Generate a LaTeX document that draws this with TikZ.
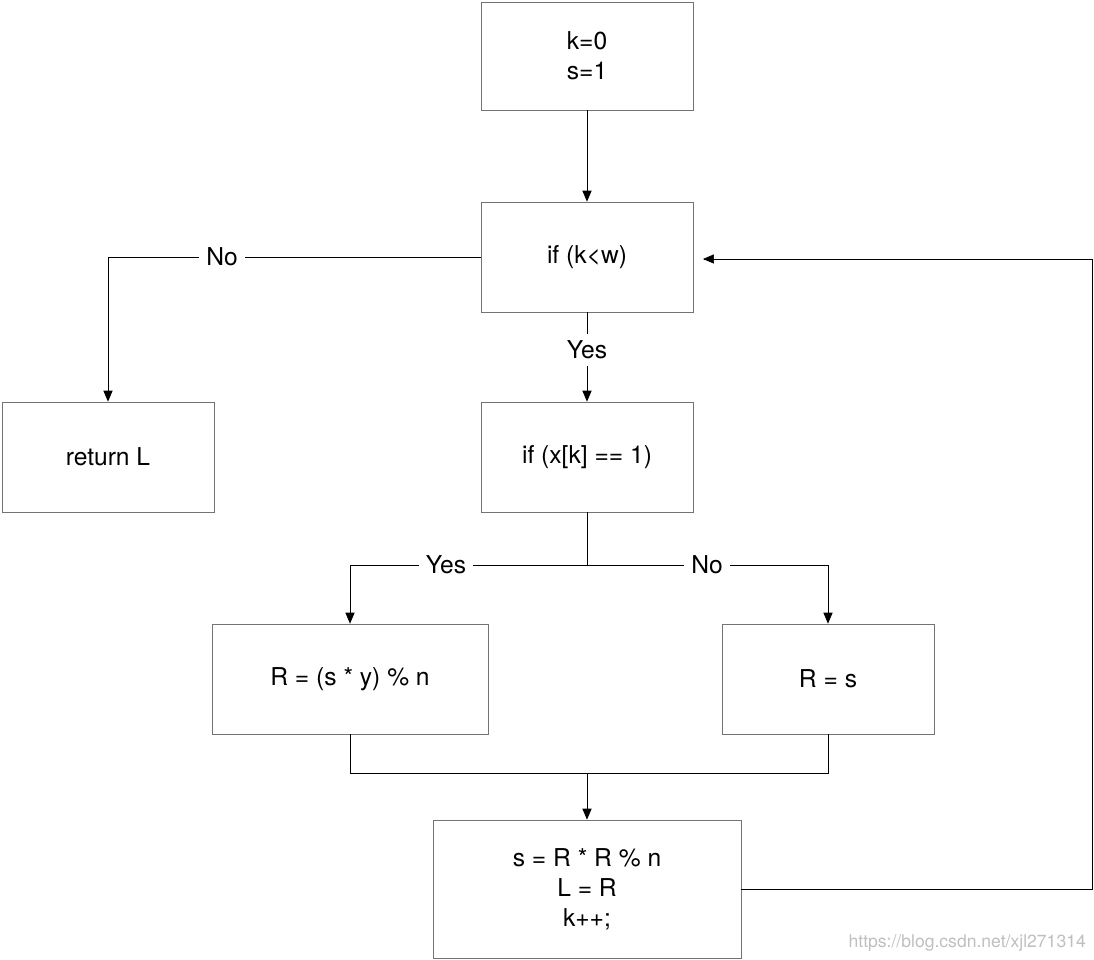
\documentclass[tikz,border=0pt]{standalone}
\usepackage{fontspec}
\setmainfont{TeX Gyre Heros}
\usetikzlibrary{arrows, positioning}
\tikzstyle{block} = [draw=black!55, minimum width=4.24cm, minimum height=2.2cm, align=center,
                     font=\fontsize{14}{17}\selectfont]
\tikzstyle{flow} = [draw, -triangle 45]
\tikzstyle{label} = [fill=white, inner sep=4pt, font=\fontsize{14}{17}\selectfont]

\begin{document}
\begin{tikzpicture}
				\useasboundingbox (0, 0) rectangle (21.88, -19.2);

				\node (Init) [block, minimum height=2.16cm] at (11.74, -1.12) {k=0\\s=1};
				\node (Loop) [block] at (11.74, -5.14) {if (k<w)};
				\draw [flow] (Init) -- (Loop);

				% loop exit
				\node (Return) [block] at (2.16, -9.14) {return L};
				\coordinate (NoCorner) at (2.16, -5.14);
				\draw [flow] (Loop.west) -- (NoCorner) -- (Return);
				\node (NoLoop) [label] at (4.44, -5.14) {No};

				% bit test
				\node (Bit) [block] at (11.74, -9.14) {if (x[k] == 1)};
				\draw [flow] (Loop) -- (Bit);
				\node (YesLoop) [label] at (11.74, -7.0) {Yes};

				\coordinate (Split) at (11.74, -11.3);
				\draw (Bit) -- (Split);

				\node (Mult) [block, minimum width=5.52cm] at (7.0, -13.58) {R = (s * y) \% n};
				\coordinate (MultIn) at (7.0, -11.3);
				\draw [flow] (Split) -- (MultIn) -- (Mult);
				\node (YesBit) [label] at (8.92, -11.3) {Yes};

				\node (Keep) [block] at (16.56, -13.58) {R = s};
				\coordinate (KeepIn) at (16.56, -11.3);
				\draw [flow] (Split) -- (KeepIn) -- (Keep);
				\node (NoBit) [label] at (14.14, -11.3) {No};

				% merge
				\node (Square) [block, minimum width=6.16cm, minimum height=2.76cm] at (11.74, -17.78)
					{s = R * R \% n\\L = R\\k++;};
				\coordinate (MultOut) at (7.0, -15.46);
				\coordinate (KeepOut) at (16.56, -15.46);
				\coordinate (Join) at (11.74, -15.46);
				\draw (Mult) -- (MultOut) -- (KeepOut) -- (Keep);
				\draw [flow] (Join) -- (Square);

				% back to the loop test
				\coordinate (BackLow) at (21.84, -17.78);
				\coordinate (BackHigh) at (21.84, -5.18);
				\coordinate (BackIn) at (14.06, -5.18);
				\draw [flow] (Square) -- (BackLow) -- (BackHigh) -- (BackIn);

				\node (Mark) [anchor=south east, text=black!25, font=\fontsize{10}{12}\selectfont]
					at (21.84, -19.15) {https://blog.csdn.net/xjl271314};
			\end{tikzpicture}
\end{document}
